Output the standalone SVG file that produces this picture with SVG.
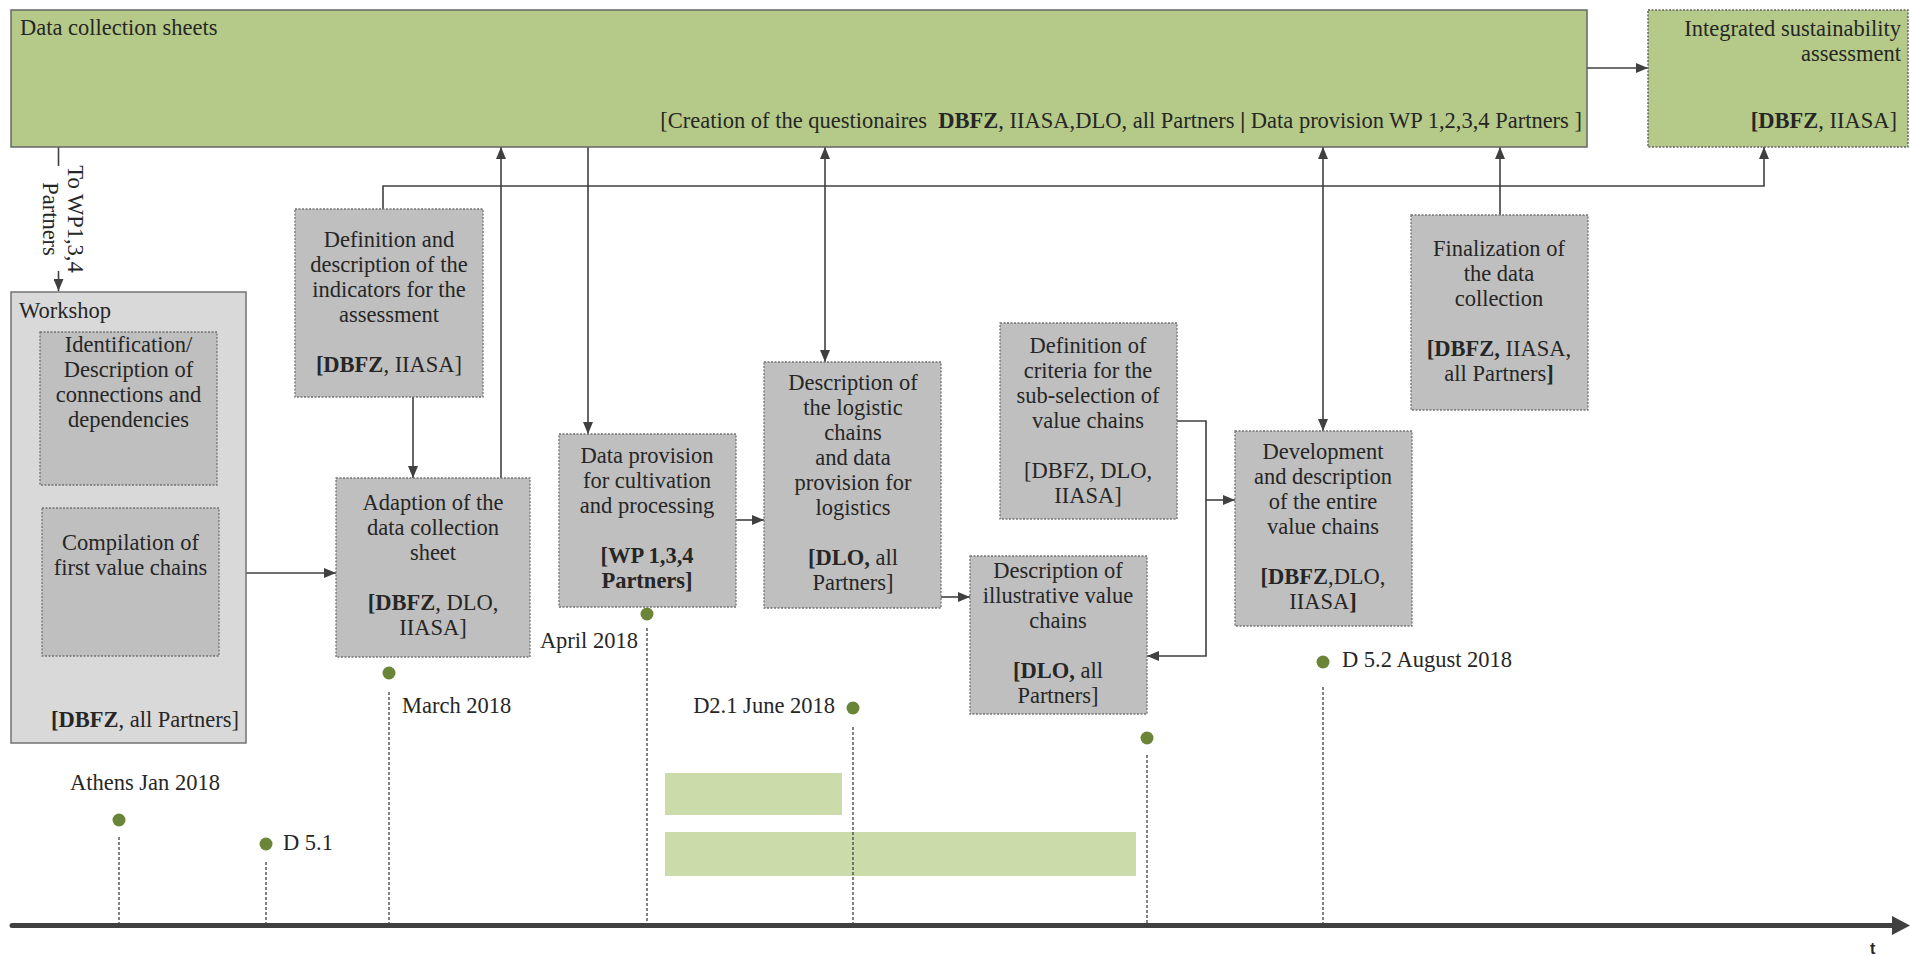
<svg xmlns="http://www.w3.org/2000/svg" width="1910" height="956" viewBox="0 0 1910 956">
<style>
text{font-family:"Liberation Serif","Times New Roman",serif;font-size:22.5px;fill:#262626}
.c{text-anchor:middle}
.e{text-anchor:end}
.b{font-weight:bold}
.green{fill:#b5ca88;stroke:#666;stroke-width:1.5}
.greend{fill:#b5ca88;stroke:#666;stroke-width:1.5;stroke-dasharray:2 1.5}
.box{fill:#bfbfbf;stroke:#737373;stroke-width:1.3;stroke-dasharray:2 1.5}
.ws{fill:#d9d9d9;stroke:#737373;stroke-width:1.5}
.ln{fill:none;stroke:#404040;stroke-width:1.6}
.dl{fill:none;stroke:#4d4d4d;stroke-width:1.4;stroke-dasharray:3 2}
.dot{fill:#6b8538}
.bar{fill:#cbdba9}
</style>
<defs>
<marker id="ah" markerWidth="12" markerHeight="10" refX="12" refY="5" orient="auto-start-reverse" markerUnits="userSpaceOnUse"><path d="M0,0 L12,5 L0,10 z" fill="#404040"/></marker>
</defs>
<rect width="1910" height="956" fill="#fff"/>

<g id="timeline">
<rect class="bar" x="665" y="773" width="177" height="42"/>
<rect class="bar" x="665" y="832" width="471" height="44"/>
<line class="dl" x1="119" y1="837" x2="119" y2="925"/>
<line class="dl" x1="266" y1="862" x2="266" y2="925"/>
<line class="dl" x1="389" y1="692" x2="389" y2="925"/>
<line class="dl" x1="647" y1="628" x2="647" y2="925"/>
<line class="dl" x1="853" y1="727" x2="853" y2="925"/>
<line class="dl" x1="1147" y1="755" x2="1147" y2="925"/>
<line class="dl" x1="1323" y1="687" x2="1323" y2="925"/>
<line x1="12" y1="925.5" x2="1895" y2="925.5" stroke="#404040" stroke-width="5" stroke-linecap="round"/>
<polygon points="1892,916 1910,925.5 1892,935" fill="#404040"/>
<text x="1870" y="954" class="b" style="font-family:'Liberation Sans',Arial,sans-serif;font-size:16px">t</text>
<circle class="dot" cx="119" cy="820" r="6.5"/>
<text x="70" y="790">Athens Jan 2018</text>
<circle class="dot" cx="266" cy="844" r="6.5"/>
<text x="283" y="850">D 5.1</text>
<circle class="dot" cx="389" cy="673" r="6.5"/>
<text x="402" y="713">March 2018</text>
<circle class="dot" cx="647" cy="614" r="6.5"/>
<text x="638" y="648" class="e">April 2018</text>
<circle class="dot" cx="853" cy="708" r="6.5"/>
<text x="835" y="713" class="e">D2.1 June 2018</text>
<circle class="dot" cx="1147" cy="738" r="6.5"/>
<circle class="dot" cx="1323" cy="662" r="6.5"/>
<text x="1342" y="667">D 5.2 August 2018</text>
</g>

<g id="connectors">
<line class="ln" x1="58.5" y1="147" x2="58.5" y2="166"/>
<line class="ln" x1="58.5" y1="271" x2="58.5" y2="291" marker-end="url(#ah)"/>
<text transform="translate(68,219) rotate(90)" class="c">To WP1,3,4<tspan x="0" dy="25">Partners</tspan></text>
<line class="ln" x1="1587" y1="68" x2="1648" y2="68" marker-end="url(#ah)"/>
<polyline class="ln" points="383,209 383,186 1764,186 1764,147" marker-end="url(#ah)"/>
<line class="ln" x1="501" y1="478" x2="501" y2="147" marker-end="url(#ah)"/>
<line class="ln" x1="588" y1="147" x2="588" y2="434" marker-end="url(#ah)"/>
<line class="ln" x1="825" y1="147" x2="825" y2="362" marker-start="url(#ah)" marker-end="url(#ah)"/>
<line class="ln" x1="1323" y1="147" x2="1323" y2="431" marker-start="url(#ah)" marker-end="url(#ah)"/>
<line class="ln" x1="1500" y1="215" x2="1500" y2="147" marker-end="url(#ah)"/>
<line class="ln" x1="413" y1="397" x2="413" y2="478" marker-end="url(#ah)"/>
<line class="ln" x1="246" y1="573" x2="336" y2="573" marker-end="url(#ah)"/>
<line class="ln" x1="736" y1="520" x2="764" y2="520" marker-end="url(#ah)"/>
<line class="ln" x1="941" y1="597" x2="970" y2="597" marker-end="url(#ah)"/>
<polyline class="ln" points="1177,421 1206,421 1206,656 1147,656" marker-end="url(#ah)"/>
<line class="ln" x1="1206" y1="500" x2="1235" y2="500" marker-end="url(#ah)"/>
</g>

<g id="data-collection">
<rect class="green" x="11" y="10" width="1576" height="137"/>
<text x="20" y="35">Data collection sheets</text>
<text x="1582" y="128" class="e">[Creation of the questionaires &#160;<tspan class="b">DBFZ</tspan>, IIASA,DLO, all Partners <tspan class="b">|</tspan> Data provision WP 1,2,3,4 Partners ]</text>
</g>

<g id="integrated">
<rect class="greend" x="1648" y="10" width="260" height="137"/>
<text x="1901" y="36" class="e">Integrated sustainability</text>
<text x="1901" y="61" class="e">assessment</text>
<text x="1897" y="128" class="e"><tspan class="b">[DBFZ</tspan>, IIASA]</text>
</g>

<g id="workshop">
<rect class="ws" x="11" y="292" width="235" height="451"/>
<text x="19" y="318">Workshop</text>
<rect class="box" x="40" y="332" width="177" height="153"/>
<text x="128.5" y="352" class="c">Identification/</text>
<text x="128.5" y="377" class="c">Description of</text>
<text x="128.5" y="402" class="c">connections and</text>
<text x="128.5" y="427" class="c">dependencies</text>
<rect class="box" x="42" y="508" width="177" height="148"/>
<text x="130.5" y="550" class="c">Compilation of</text>
<text x="130.5" y="575" class="c">first value chains</text>
<text x="239" y="727" class="e"><tspan class="b">[DBFZ</tspan>, all Partners]</text>
</g>

<g id="definition">
<rect class="box" x="295" y="209" width="188" height="188"/>
<text x="389" y="247" class="c">Definition and</text>
<text x="389" y="272" class="c">description of the</text>
<text x="389" y="297" class="c">indicators for the</text>
<text x="389" y="322" class="c">assessment</text>
<text x="389" y="372" class="c"><tspan class="b">[DBFZ</tspan>, IIASA]</text>
</g>

<g id="adaption">
<rect class="box" x="336" y="478" width="194" height="179"/>
<text x="433" y="510" class="c">Adaption of the</text>
<text x="433" y="535" class="c">data collection</text>
<text x="433" y="560" class="c">sheet</text>
<text x="433" y="610" class="c"><tspan class="b">[DBFZ</tspan>, DLO,</text>
<text x="433" y="635" class="c">IIASA]</text>
</g>

<g id="data-provision">
<rect class="box" x="559" y="434" width="177" height="173"/>
<text x="647" y="463" class="c">Data provision</text>
<text x="647" y="488" class="c">for cultivation</text>
<text x="647" y="513" class="c">and processing</text>
<text x="647" y="563" class="c b">[WP 1,3,4</text>
<text x="647" y="588" class="c b">Partners]</text>
</g>

<g id="logistic">
<rect class="box" x="764" y="362" width="177" height="246"/>
<text x="853" y="390" class="c">Description of</text>
<text x="853" y="415" class="c">the logistic</text>
<text x="853" y="440" class="c">chains</text>
<text x="853" y="465" class="c">and data</text>
<text x="853" y="490" class="c">provision for</text>
<text x="853" y="515" class="c">logistics</text>
<text x="853" y="565" class="c"><tspan class="b">[DLO,</tspan> all</text>
<text x="853" y="590" class="c">Partners]</text>
</g>

<g id="illustrative">
<rect class="box" x="970" y="556" width="177" height="158"/>
<text x="1058" y="578" class="c">Description of</text>
<text x="1058" y="603" class="c">illustrative value</text>
<text x="1058" y="628" class="c">chains</text>
<text x="1058" y="678" class="c"><tspan class="b">[DLO,</tspan> all</text>
<text x="1058" y="703" class="c">Partners]</text>
</g>

<g id="criteria">
<rect class="box" x="1000" y="323" width="177" height="196"/>
<text x="1088" y="353" class="c">Definition of</text>
<text x="1088" y="378" class="c">criteria for the</text>
<text x="1088" y="403" class="c">sub-selection of</text>
<text x="1088" y="428" class="c">value chains</text>
<text x="1088" y="478" class="c">[DBFZ, DLO,</text>
<text x="1088" y="503" class="c">IIASA]</text>
</g>

<g id="development">
<rect class="box" x="1235" y="431" width="177" height="195"/>
<text x="1323" y="459" class="c">Development</text>
<text x="1323" y="484" class="c">and description</text>
<text x="1323" y="509" class="c">of the entire</text>
<text x="1323" y="534" class="c">value chains</text>
<text x="1323" y="584" class="c"><tspan class="b">[DBFZ</tspan>,DLO,</text>
<text x="1323" y="609" class="c">IIASA<tspan class="b">]</tspan></text>
</g>

<g id="finalization">
<rect class="box" x="1411" y="215" width="177" height="195"/>
<text x="1499" y="256" class="c">Finalization of</text>
<text x="1499" y="281" class="c">the data</text>
<text x="1499" y="306" class="c">collection</text>
<text x="1499" y="356" class="c"><tspan class="b">[DBFZ,</tspan> IIASA,</text>
<text x="1499" y="381" class="c">all Partners<tspan class="b">]</tspan></text>
</g>
</svg>
